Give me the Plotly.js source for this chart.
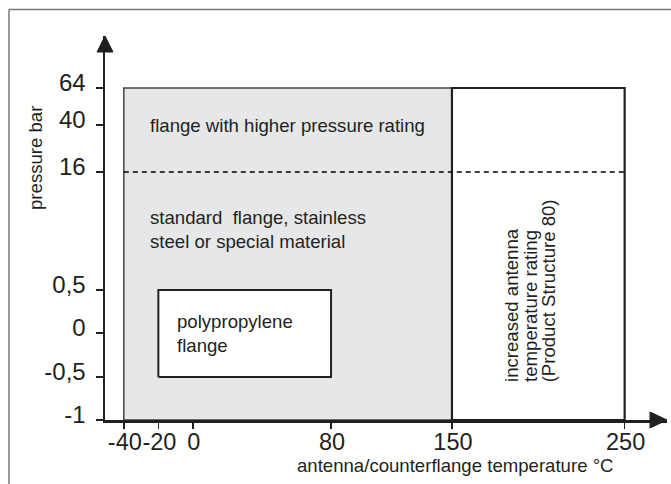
<!DOCTYPE html>
<html>
<head>
<meta charset="utf-8">
<script src="https://cdn.plot.ly/plotly-3.0.1.min.js"></script>
<style>html,body{margin:0;padding:0;background:#fff;}#chart{width:671px;height:484px;}</style>
</head>
<body>
<div id="chart"></div>
<script>
// ---- data ----
const tempTicks = [-40, -20, 0, 80, 150, 250];
const tempTickLabels = ['-40', '-20', '0', '80', '150', '250'];
const pressureTicks = [-1, -0.5, 0, 0.5, 16, 40, 64];
const pressureTickLabels = ['-1', '-0,5', '0', '0,5', '16', '40', '64'];

const standardTemp = [-40, 150];
const standardPressure = [-1, 64];
const highTempTemp = [150, 250];
const highTempPressure = [-1, 64];
const ppTemp = [-20, 80];
const ppPressure = [-0.5, 0.5];
const pressureRatingLimit = 16;

const labelHighPressure = 'flange with higher pressure rating';
const labelStandard = 'standard\u00A0 flange, stainless<br>steel or special material';
const labelPP = 'polypropylene<br>flange';
const labelHighTemp = ['increased antenna', 'temperature rating', '(Product Structure 80)'];
const xTitle = 'antenna/counterflange temperature °C';
const yTitle = 'pressure bar';

// ---- schematic (non-linear) pressure scale of the diagram ----
const pressureKnots = [0, 43, 87, 130, 248, 295, 332];
function scaleP(p) {
  for (let i = 0; i < pressureTicks.length - 1; i++) {
    const a = pressureTicks[i], b = pressureTicks[i + 1];
    if (p <= b || i === pressureTicks.length - 2) {
      return pressureKnots[i] + (p - a) / (b - a) * (pressureKnots[i + 1] - pressureKnots[i]);
    }
  }
}
function rect(tx, py) {
  return {
    x: [tx[0], tx[1], tx[1], tx[0], tx[0]],
    y: [py[0], py[0], py[1], py[1], py[0]].map(scaleP)
  };
}

const ink = '#231f20';
const font = 'Liberation Sans, Arial, Helvetica, sans-serif';

const rStd = rect(standardTemp, standardPressure);
const rHot = rect(highTempTemp, highTempPressure);
const rPP = rect(ppTemp, ppPressure);

const traces = [
  {x: rStd.x, y: rStd.y, mode: 'lines', fill: 'toself', fillcolor: '#e6e7e8',
   line: {color: '#444', width: 1.5}, hoverinfo: 'skip', showlegend: false},
  {x: rHot.x, y: rHot.y, mode: 'lines', fill: 'toself', fillcolor: '#ffffff',
   line: {color: ink, width: 2.2}, hoverinfo: 'skip', showlegend: false},
  {x: [standardTemp[0], highTempTemp[1]], y: [pressureRatingLimit, pressureRatingLimit].map(scaleP),
   mode: 'lines', line: {color: '#000', width: 1.3, dash: '5px,4px'}, hoverinfo: 'skip', showlegend: false},
  {x: rPP.x, y: rPP.y, mode: 'lines', fill: 'toself', fillcolor: '#ffffff',
   line: {color: ink, width: 2}, hoverinfo: 'skip', showlegend: false}
];

const txtFont = {family: font, size: 18.6, color: ink};
const annotations = [
  {x: -26, y: scaleP(40), xref: 'x', yref: 'y', text: labelHighPressure, showarrow: false,
   xanchor: 'left', yanchor: 'middle', align: 'left', font: txtFont},
  {x: -26, y: scaleP(8.45), xref: 'x', yref: 'y', text: labelStandard, showarrow: false,
   xanchor: 'left', yanchor: 'middle', align: 'left', font: txtFont},
  {x: -10.5, y: scaleP(0), xref: 'x', yref: 'y', text: labelPP, showarrow: false,
   xanchor: 'left', yanchor: 'middle', align: 'left', font: txtFont},
  {x: 0.6237, y: -0.119, xref: 'paper', yref: 'paper', text: xTitle, showarrow: false,
   xanchor: 'center', yanchor: 'middle', font: txtFont},
  {x: -0.1237, y: 0.6836, xref: 'paper', yref: 'paper', text: yTitle, showarrow: false,
   textangle: -90, xanchor: 'center', yanchor: 'middle', font: txtFont}
];
const hotX = [184.8, 195.8, 205.6];
labelHighTemp.forEach((t, i) => annotations.push({
  x: hotX[i], y: scaleP(-0.58), xref: 'x', yref: 'y', text: t, showarrow: false,
  textangle: -90, xanchor: 'center', yanchor: 'bottom', font: txtFont
}));

const shapes = [
  // outer frame (top and left)
  {type: 'line', xref: 'paper', yref: 'paper', x0: -0.1708, x1: -0.1708, y0: -0.2, y1: 1.069,
   line: {color: '#777', width: 1.5}},
  {type: 'line', xref: 'paper', yref: 'paper', x0: -0.1708, x1: 1.02, y0: 1.069, y1: 1.069,
   line: {color: '#777', width: 1.5}},
  // arrow heads
  {type: 'path', xref: 'paper', yref: 'paper', path: 'M 0,1 L -0.0142,0.9583 L 0.0142,0.9583 Z',
   fillcolor: ink, line: {color: ink, width: 1}},
  {type: 'path', xref: 'paper', yref: 'paper', path: 'M 1,0 L 0.9698,0.0208 L 0.9698,-0.0208 Z',
   fillcolor: ink, line: {color: ink, width: 1}}
];

const layout = {
  width: 671, height: 484,
  margin: {l: 105, r: 4, t: 36, b: 64, pad: 0},
  paper_bgcolor: '#ffffff', plot_bgcolor: '#ffffff',
  showlegend: false,
  font: {family: font, color: ink},
  xaxis: {
    range: [(105 - 192.9) / 1.727, (667 - 192.9) / 1.727],
    tickvals: tempTicks, ticktext: tempTickLabels,
    showgrid: false, zeroline: false, showline: true, linecolor: ink, linewidth: 2.5,
    ticks: 'outside', ticklen: 6, tickwidth: 1.5, tickcolor: ink,
    tickfont: {family: font, size: 23.5, color: ink},
    tickangle: 0, ticklabelshift: 1, ticklabelstandoff: -7,
    fixedrange: true
  },
  yaxis: {
    range: [0, 384],
    tickvals: pressureTicks.map(scaleP), ticktext: pressureTickLabels,
    showgrid: false, zeroline: false, showline: true, linecolor: ink, linewidth: 2.5,
    ticks: 'outside', ticklen: 7, tickwidth: 1.5, tickcolor: ink,
    tickfont: {family: font, size: 24, color: ink},
    tickangle: 0, ticklabelshift: -5, ticklabelstandoff: 5,
    fixedrange: true
  },
  annotations: annotations,
  shapes: shapes
};

Plotly.newPlot('chart', traces, layout, {displayModeBar: false, staticPlot: true});
</script>
</body>
</html>
